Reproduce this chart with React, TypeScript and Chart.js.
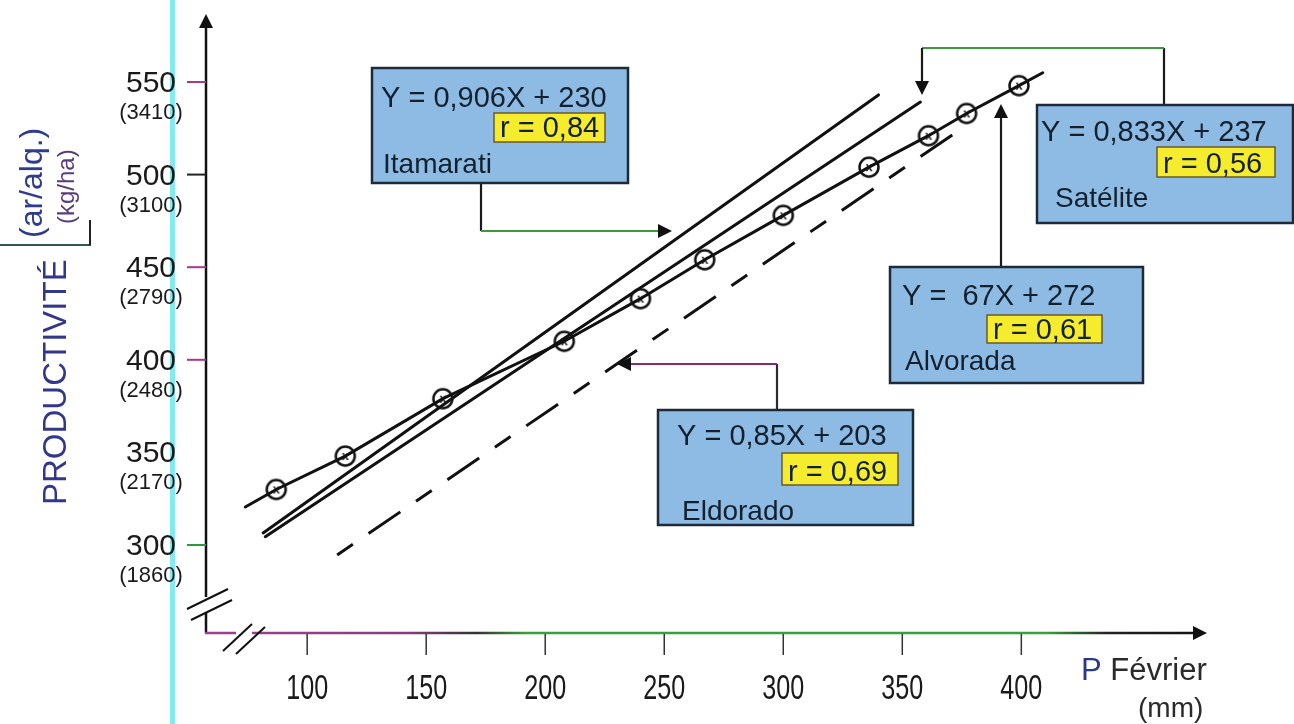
import { useEffect, useRef } from 'react';
import { Chart, registerables } from 'chart.js';

Chart.register(...registerables);

// ---------- data ----------
const xTicks = [100, 150, 200, 250, 300, 350, 400];
const yTicks = [300, 350, 400, 450, 500, 550];
const yTicksKgHa = ['(1860)', '(2170)', '(2480)', '(2790)', '(3100)', '(3410)'];

// Alvorada observations (circles)
const alvoradaX = [87, 116, 157, 208, 240, 267, 300, 336, 361, 377, 399];
const alvoradaY = [330, 348, 379, 410, 433, 454, 478, 504, 521, 533, 548];
// ends of the Alvorada line beyond the first / last circle
const alvoradaEndsX = [74, 409];
const alvoradaEndsY = [320.5, 555];

// regression lines (end points)
const itamaratiX = [81.5, 340];
const itamaratiY = [306.5, 543];
const sateliteX = [82.4, 357.6];
const sateliteY = [304.5, 539.2];
const eldoradoX = [112.6, 371];
const eldoradoY = [294.6, 521.4];

const equations = ['Y = 0,906X + 230', 'Y = 0,833X + 237', 'Y =  67X + 272', 'Y = 0,85X + 203'];
const rValues = ['r = 0,84', 'r = 0,56', 'r = 0,61', 'r = 0,69'];
const varieties = ['Itamarati', 'Satélite', 'Alvorada', 'Eldorado'];

// ---------- layout ----------
const F = "'Liberation Sans', Arial, Helvetica, sans-serif";
const W = 1294;
const H = 724;

const boxLayout = [
  { rect: [372, 68, 628, 183], eq: [381, 107], rRect: [494, 113, 605, 142], r: [500, 137], name: [383, 173] },
  { rect: [1037, 105, 1293, 223], eq: [1041, 141], rRect: [1157, 147, 1275, 177], r: [1163, 173], name: [1055, 207] },
  { rect: [890, 267, 1143, 383], eq: [902, 305], rRect: [987, 315, 1102, 343], r: [993, 339], name: [905, 370] },
  { rect: [658, 410, 913, 525], eq: [677, 445], rRect: [782, 453, 898, 485], r: [788, 481], name: [682, 520] },
];

const connectorSegs: { pts: number[][]; color: string }[] = [
  { pts: [[481, 183], [481, 231]], color: '#1a1a1a' },
  { pts: [[481, 231], [660, 231]], color: '#3c9a3c' },
  { pts: [[1164, 105], [1164, 48]], color: '#1a1a1a' },
  { pts: [[1164, 48], [922, 48]], color: '#3c9a3c' },
  { pts: [[922, 48], [922, 83]], color: '#1a1a1a' },
  { pts: [[1001, 267], [1001, 117]], color: '#1a1a1a' },
  { pts: [[777, 410], [777, 364]], color: '#2a2a2a' },
  { pts: [[777, 364], [630, 364]], color: '#8a2a72' },
];
const arrowHeads: { x: number; y: number; dir: string }[] = [
  { x: 672, y: 231, dir: 'right' },
  { x: 922, y: 95, dir: 'down' },
  { x: 1001, y: 104, dir: 'up' },
  { x: 617, y: 364, dir: 'left' },
];

const yTickColors = ['#2a9a3a', 'rgba(0,0,0,0)', '#a8388a', '#a8388a', '#222', '#a8388a'];

function arrowHead(ctx: CanvasRenderingContext2D, tx: number, ty: number, dir: string, color = '#111') {
  const L = 14, Wd = 7;
  ctx.beginPath();
  ctx.moveTo(tx, ty);
  if (dir === 'right') { ctx.lineTo(tx - L, ty - Wd); ctx.lineTo(tx - L, ty + Wd); }
  if (dir === 'left') { ctx.lineTo(tx + L, ty - Wd); ctx.lineTo(tx + L, ty + Wd); }
  if (dir === 'up') { ctx.lineTo(tx - Wd, ty + L); ctx.lineTo(tx + Wd, ty + L); }
  if (dir === 'down') { ctx.lineTo(tx - Wd, ty - L); ctx.lineTo(tx + Wd, ty - L); }
  ctx.closePath();
  ctx.fillStyle = color;
  ctx.fill();
}

function line(ctx: CanvasRenderingContext2D, x0: number, y0: number, x1: number, y1: number, color: string | CanvasGradient, lw: number) {
  ctx.beginPath();
  ctx.moveTo(x0, y0);
  ctx.lineTo(x1, y1);
  ctx.strokeStyle = color;
  ctx.lineWidth = lw;
  ctx.stroke();
}

function makeMarker() {
  const c = document.createElement('canvas');
  c.width = 26;
  c.height = 26;
  const g = c.getContext('2d')!;
  g.beginPath();
  g.arc(13, 13, 9.5, 0, Math.PI * 2);
  g.fillStyle = '#fff';
  g.fill();
  g.lineWidth = 2.5;
  g.strokeStyle = '#111';
  g.stroke();
  g.font = `bold 13px ${F}`;
  g.fillStyle = '#222';
  g.textAlign = 'center';
  g.textBaseline = 'alphabetic';
  g.fillText('x', 13, 17);
  return c;
}

const decorPlugin = {
  id: 'decor',
  beforeDraw(chart: any) {
    const ctx: CanvasRenderingContext2D = chart.ctx;
    ctx.save();
    ctx.fillStyle = '#fff';
    ctx.fillRect(0, 0, chart.width, chart.height);
    ctx.fillStyle = '#84eaf2';
    ctx.fillRect(170, 0, 5, chart.height);
    ctx.restore();
  },
  afterDraw(chart: any) {
    const ctx: CanvasRenderingContext2D = chart.ctx;
    const xs = chart.scales.x;
    const ys = chart.scales.y;
    const area = chart.chartArea;
    const ax = area.left;
    const ay = area.bottom;
    ctx.save();
    ctx.lineCap = 'butt';

    // ---- y axis ----
    line(ctx, ax, area.top + 10, ax, ay, '#111', 2.5);
    arrowHead(ctx, ax, area.top, 'up');
    // ---- x axis ----
    const grad = ctx.createLinearGradient(ax, 0, area.right, 0);
    grad.addColorStop(0, '#a0408f');
    grad.addColorStop(0.2, '#8a3a80');
    grad.addColorStop(0.27, '#333');
    grad.addColorStop(0.32, '#3aa03a');
    grad.addColorStop(0.84, '#3aa03a');
    grad.addColorStop(0.9, '#222');
    grad.addColorStop(1, '#111');
    line(ctx, ax - 1, ay, area.right - 10, ay, grad, 2.5);
    arrowHead(ctx, area.right, ay, 'right');

    // axis breaks
    line(ctx, ax, 597, ax, 612, '#fff', 5);
    line(ctx, ax - 19, 609, ax + 22, 589, '#111', 2);
    line(ctx, ax - 15, 620, ax + 26, 600, '#111', 2);
    line(ctx, 236, ay, 252, ay, '#fff', 5);
    line(ctx, 223, 651, 252, 624, '#111', 2);
    line(ctx, 236, 654, 265, 627, '#111', 2);

    // x ticks + labels
    xTicks.forEach((v) => {
      const px = xs.getPixelForValue(v);
      line(ctx, px, ay + 1, px, ay + 22, '#333', 1.5);
      ctx.save();
      ctx.translate(px, 699);
      ctx.scale(0.72, 1);
      ctx.font = `35px ${F}`;
      ctx.fillStyle = '#1a1a1a';
      ctx.textAlign = 'center';
      ctx.textBaseline = 'alphabetic';
      ctx.fillText(String(v), 0, 0);
      ctx.restore();
    });

    // y ticks + labels
    yTicks.forEach((v, i) => {
      const py = ys.getPixelForValue(v);
      line(ctx, ax - 19, py, ax, py, yTickColors[i], 2);
      ctx.fillStyle = '#1a1a1a';
      ctx.textAlign = 'center';
      ctx.textBaseline = 'alphabetic';
      ctx.font = `30px ${F}`;
      ctx.fillText(String(v), 151, py + 10);
      ctx.font = `22px ${F}`;
      ctx.fillText(yTicksKgHa[i], 151, py + 37);
    });

    // y axis title
    const rot = (text: string, x: number, y: number, font: string, color: string) => {
      ctx.save();
      ctx.translate(x, y);
      ctx.rotate(-Math.PI / 2);
      ctx.font = font;
      ctx.fillStyle = color;
      ctx.textAlign = 'left';
      ctx.textBaseline = 'alphabetic';
      ctx.fillText(text, 0, 0);
      ctx.restore();
    };
    rot('PRODUCTIVITÉ', 66, 505, `33px ${F}`, '#33378a');
    rot('(ar/alq.)', 42, 238, `32px ${F}`, '#2f3c8c');
    rot('(kg/ha)', 74, 224, `24px ${F}`, '#5a3c7e');
    line(ctx, 0, 245, 91, 245, '#2c5a50', 2);
    line(ctx, 90, 245, 90, 220, '#222', 2);

    // x axis title
    ctx.textAlign = 'left';
    ctx.font = `31px ${F}`;
    ctx.fillStyle = '#2a3a8a';
    ctx.fillText('P', 1081, 680);
    const pw = ctx.measureText('P ').width;
    ctx.fillStyle = '#2a2a2a';
    ctx.fillText('Février', 1081 + pw, 680);
    ctx.font = `28px ${F}`;
    ctx.fillText('(mm)', 1138, 717);

    // connectors
    connectorSegs.forEach((s) => line(ctx, s.pts[0][0], s.pts[0][1], s.pts[1][0], s.pts[1][1], s.color, 2.2));
    arrowHeads.forEach((a) => arrowHead(ctx, a.x, a.y, a.dir));

    // annotation boxes
    boxLayout.forEach((b, i) => {
      const [x0, y0, x1, y1] = b.rect;
      ctx.fillStyle = '#8dbbe4';
      ctx.fillRect(x0, y0, x1 - x0, y1 - y0);
      ctx.strokeStyle = '#1d2a3a';
      ctx.lineWidth = 2.5;
      ctx.strokeRect(x0, y0, x1 - x0, y1 - y0);
      const [rx0, ry0, rx1, ry1] = b.rRect;
      ctx.fillStyle = '#f4ec2c';
      ctx.fillRect(rx0, ry0, rx1 - rx0, ry1 - ry0);
      ctx.strokeStyle = '#6a5a2a';
      ctx.lineWidth = 1.5;
      ctx.strokeRect(rx0, ry0, rx1 - rx0, ry1 - ry0);
      ctx.fillStyle = '#13202e';
      ctx.textAlign = 'left';
      ctx.textBaseline = 'alphabetic';
      ctx.font = `29px ${F}`;
      ctx.fillText(equations[i], b.eq[0], b.eq[1]);
      ctx.fillText(rValues[i], b.r[0], b.r[1]);
      ctx.font = `28px ${F}`;
      ctx.fillText(varieties[i], b.name[0], b.name[1]);
    });

    ctx.restore();
  },
};

const pts = (xs: number[], ys: number[]) => xs.map((x, i) => ({ x, y: ys[i] }));

export default function App() {
  const ref = useRef<HTMLCanvasElement>(null);
  useEffect(() => {
    const canvas = ref.current!;
    const marker = makeMarker();
    const alvoradaLine = [
      { x: alvoradaEndsX[0], y: alvoradaEndsY[0] },
      ...pts(alvoradaX, alvoradaY),
      { x: alvoradaEndsX[1], y: alvoradaEndsY[1] },
    ];
    const lineDs = (label: string, data: any[], extra: any = {}) => ({
      label,
      data,
      showLine: true,
      borderColor: '#111',
      borderWidth: 3,
      pointRadius: 0,
      fill: false,
      borderCapStyle: 'round',
      ...extra,
    });
    const chart = new Chart(canvas, {
      type: 'scatter',
      data: {
        datasets: [
          lineDs(varieties[0], pts(itamaratiX, itamaratiY)),
          lineDs(varieties[1], pts(sateliteX, sateliteY)),
          lineDs(varieties[3], pts(eldoradoX, eldoradoY), { borderDash: [19, 19, 38.5, 19], borderCapStyle: 'butt' }),
          lineDs(varieties[2], alvoradaLine),
          {
            label: varieties[2] + ' obs',
            data: pts(alvoradaX, alvoradaY),
            showLine: false,
            pointStyle: marker,
            pointRadius: 10,
          } as any,
        ],
      },
      options: {
        animation: false,
        responsive: false,
        maintainAspectRatio: false,
        events: [],
        layout: { padding: { left: 206, right: 87, top: 14, bottom: 91 } },
        plugins: { legend: { display: false }, tooltip: { enabled: false } },
        scales: {
          x: { type: 'linear', min: 57.5, max: 478, display: false },
          y: { type: 'linear', min: 252.5, max: 586.7, display: false },
        },
      },
      plugins: [decorPlugin],
    } as any);
    return () => chart.destroy();
  }, []);
  return (
    <canvas
      ref={ref}
      width={W}
      height={H}
      style={{ position: 'fixed', left: 0, top: 0, width: W, height: H, display: 'block' }}
    />
  );
}
